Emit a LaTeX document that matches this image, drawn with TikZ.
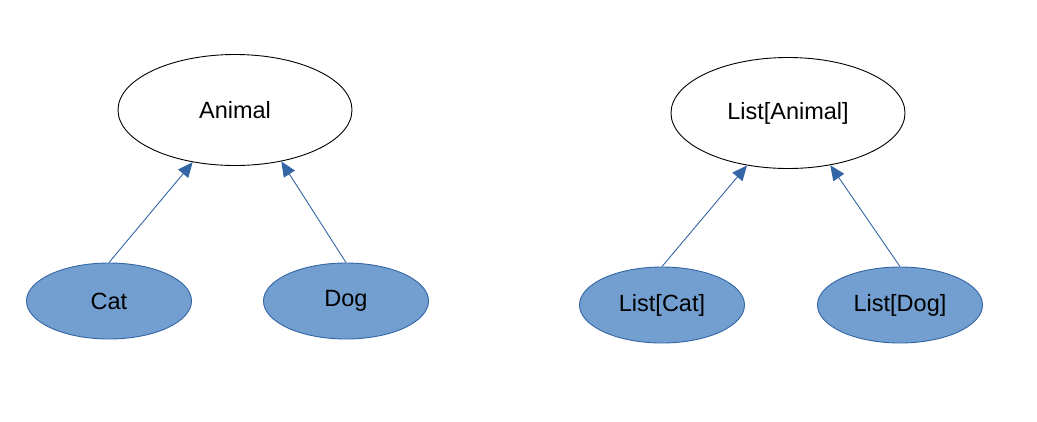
\documentclass[tikz,border=0pt]{standalone}
\usepackage{fontspec}
\setmainfont{Liberation Sans}
\usetikzlibrary{shapes.geometric,arrows.meta}

\definecolor{subfill}{HTML}{729FCF}
\definecolor{subline}{HTML}{3465A4}

\tikzset{
  superbox/.style={ellipse, draw=black, fill=white, line width=0.9pt, inner sep=0pt,
    minimum width=234pt, minimum height=111pt, font=\fontsize{23.5}{28}\selectfont},
  subbox/.style={ellipse, draw=subline, fill=subfill, line width=0.9pt, inner sep=0pt,
    minimum width=165pt, minimum height=76pt, font=\fontsize{23.5}{28}\selectfont},
  isa/.style={draw=subline, line width=0.9pt, -{Triangle[length=15pt,width=13pt]}}
}

\begin{document}
\begin{tikzpicture}[x=1pt,y=-1pt]
                    \useasboundingbox (0,0) rectangle (1037,421);

                    \node[superbox] (animal) at (235,110) {Animal};
                    \node[subbox] (cat) at (109,301) {Cat};
                    \node[subbox] (dog) at (346,301) {Dog};

                    \draw[isa] (cat.north) -- (animal.231);
                    \draw[isa] (dog.north) -- (animal.312);

                    \node[superbox] (listanimal) at (788,113) {List[Animal]};
                    \node[subbox] (listcat) at (662,305) {List[Cat]};
                    \node[subbox] (listdog) at (900,305) {List[Dog]};

                    \draw[isa] (listcat.north) -- (listanimal.232);
                    \draw[isa] (listdog.north) -- (listanimal.309);
                \end{tikzpicture}
\end{document}
